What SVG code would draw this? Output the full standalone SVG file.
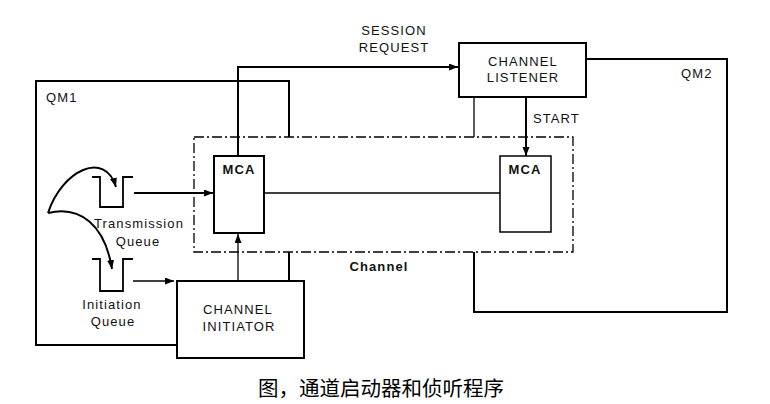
<svg xmlns="http://www.w3.org/2000/svg" width="770" height="404" viewBox="0 0 770 404">
<style>
.t{font-family:"Liberation Sans",Arial,sans-serif;font-size:13px;letter-spacing:1.1px;fill:#111}
.b{font-weight:bold}
.m{text-anchor:middle}
.k{fill:none;stroke:#000;stroke-width:2}
.n{fill:#fff;stroke:#000;stroke-width:2}
.thin{fill:none;stroke:#000;stroke-width:1.3}
.dash{fill:none;stroke:#000;stroke-width:1.3;stroke-dasharray:10 3 2 3}
.cap{font-family:"Noto Sans CJK SC","Noto Sans",sans-serif;font-size:20.5px;fill:#000}
</style>
<defs>
<marker id="ah" markerUnits="userSpaceOnUse" markerWidth="10" markerHeight="8" refX="9" refY="3.5" orient="auto">
<path d="M0,0 L9,3.5 L0,7 z" fill="#000"/>
</marker>
</defs>
<rect width="770" height="404" fill="#fff"/>
<g id="qm1">
<path class="k" d="M289,137 V81 H36 V345 H177"/>
<path class="k" d="M289,252 V281"/>
<text class="t" x="46" y="102">QM1</text>
</g>
<g id="qm2">
<path class="k" d="M586,59 H727 V312 H474 V252"/>
<path class="thin" d="M474,97 V137"/>
<text class="t" x="681" y="78">QM2</text>
</g>
<g id="channel">
<rect class="dash" x="194" y="137" width="379" height="115"/>
<text class="t b m" x="379" y="271">Channel</text>
</g>
<g id="mca-left">
<rect class="n" x="214" y="156" width="50" height="77"/>
<text class="t b m" x="239" y="174">MCA</text>
</g>
<g id="mca-right">
<rect class="n" x="500" y="156" width="51" height="76" style="stroke-width:1.5"/>
<text class="t b m" x="525" y="174">MCA</text>
</g>
<g id="channel-listener">
<rect class="n" x="459" y="43" width="127" height="54"/>
<text class="t m" x="523" y="66">CHANNEL</text>
<text class="t m" x="523" y="82">LISTENER</text>
</g>
<g id="channel-initiator">
<rect class="n" x="177" y="281" width="127" height="77"/>
<text class="t m" x="238" y="314">CHANNEL</text>
<text class="t m" x="239" y="331">INITIATOR</text>
</g>
<g id="transmission-queue">
<path class="k" d="M92,177 H100 V207 H123 V177 H133" style="stroke-width:1.8"/>
<text class="t m" x="139" y="228">Transmission</text>
<text class="t m" x="138" y="246">Queue</text>
</g>
<g id="initiation-queue">
<path class="k" d="M92,259 H100 V291 H123 V259 H133" style="stroke-width:1.8"/>
<text class="t m" x="112" y="309">Initiation</text>
<text class="t m" x="113" y="326">Queue</text>
</g>
<g id="connectors">
<path class="k" d="M238,156 V67 H458" marker-end="url(#ah)"/>
<text class="t m" x="394" y="35">SESSION</text>
<text class="t m" x="394" y="52">REQUEST</text>
<path class="thin" d="M264,193 H500" style="stroke-width:1.5"/>
<path class="k" d="M526,97 V156" marker-end="url(#ah)"/>
<text class="t" x="533" y="123">START</text>
<path class="thin" d="M238,281 V234" marker-end="url(#ah)"/>
<path class="k" d="M134,193 H213" marker-end="url(#ah)"/>
<path class="thin" d="M133,281 H174" marker-end="url(#ah)"/>
<path class="k" d="M48,213 C62,170 105,150 116,187" marker-end="url(#ah)"/>
<path class="k" d="M48,213 C80,205 105,225 112,269" marker-end="url(#ah)"/>
</g>
<text class="cap" x="258" y="396">图，通道启动器和侦听程序</text>
</svg>
